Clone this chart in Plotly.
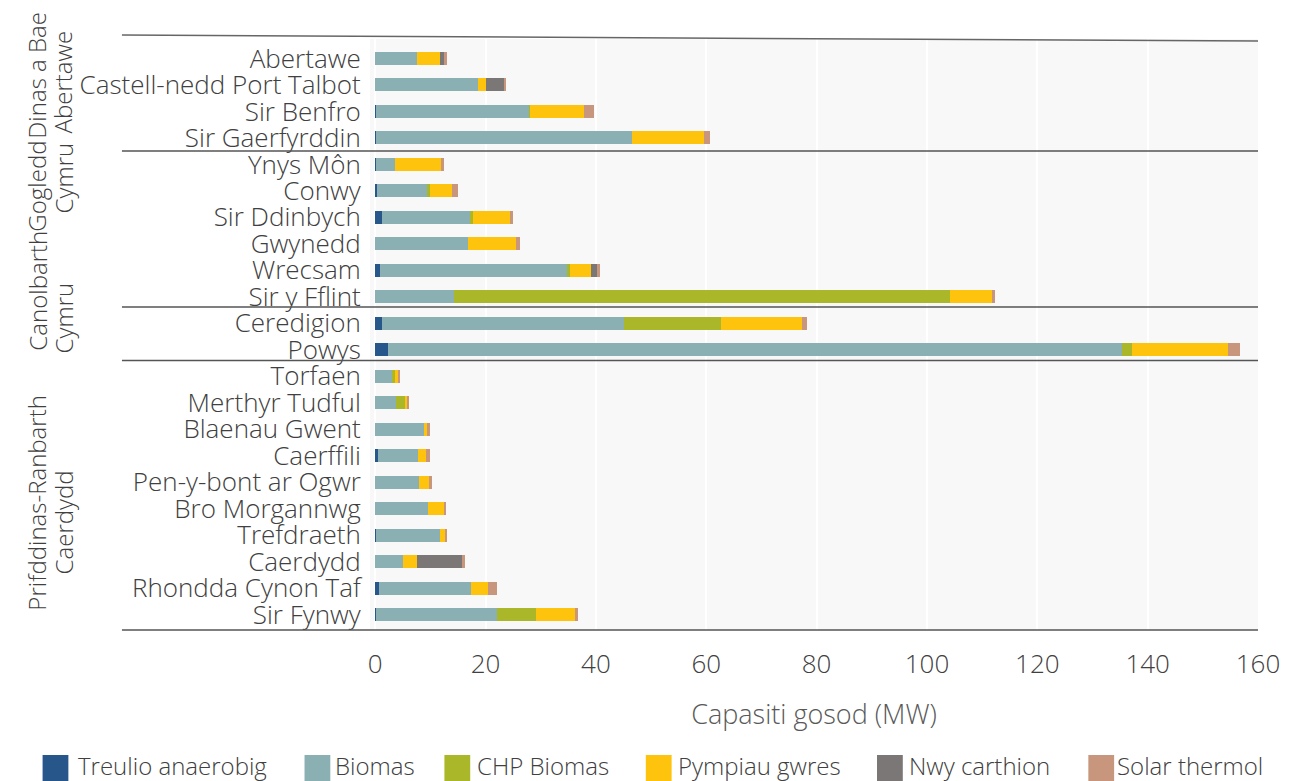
import plotly.graph_objects as go

# Local authorities, top to bottom
categories = ["Abertawe", "Castell-nedd Port Talbot", "Sir Benfro", "Sir Gaerfyrddin",
              "Ynys Môn", "Conwy", "Sir Ddinbych", "Gwynedd", "Wrecsam", "Sir y Fflint",
              "Ceredigion", "Powys",
              "Torfaen", "Merthyr Tudful", "Blaenau Gwent", "Caerffili", "Pen-y-bont ar Ogwr",
              "Bro Morgannwg", "Trefdraeth", "Caerdydd", "Rhondda Cynon Taf", "Sir Fynwy"]

# Installed capacity (MW) by technology
treulio = [0, 0, 0.2, 0.2, 0.2, 0.36, 1.3, 0, 0.9, 0, 1.3, 2.3,
           0, 0, 0, 0.5, 0, 0, 0.2, 0, 0.6, 0.2]
biomas = [7.5, 18.7, 27.7, 46.3, 3.4, 9.2, 15.8, 16.9, 34.0, 14.2, 43.7, 133.1,
          3.2, 3.8, 8.8, 7.2, 7.9, 9.5, 11.5, 5.0, 16.7, 21.9]
chp_biomas = [0, 0, 0.2, 0, 0, 0.36, 0.54, 0, 0.36, 90.0, 17.6, 1.8,
              0.36, 1.6, 0, 0, 0, 0, 0, 0, 0, 7.0]
pympiau = [4.3, 1.45, 9.7, 13.1, 8.3, 3.95, 6.8, 8.6, 3.77, 7.7, 14.7, 17.4,
           0.7, 0.36, 0.54, 1.44, 1.8, 3.05, 1.08, 2.5, 3.2, 7.2]
nwy = [0.7, 3.35, 0, 0, 0, 0, 0, 0, 1.26, 0, 0, 0,
       0, 0, 0, 0, 0, 0, 0, 8.3, 0, 0]
solar = [0.5, 0.25, 1.8, 1.1, 0.55, 1.1, 0.54, 0.72, 0.36, 0.36, 1.0, 2.2,
         0.2, 0.2, 0.54, 0.72, 0.54, 0.2, 0.2, 0.54, 1.6, 0.36]

series_names = ["Treulio anaerobig", "Biomas", "CHP Biomas", "Pympiau gwres",
                "Nwy carthion", "Solar thermol"]
series_values = [treulio, biomas, chp_biomas, pympiau, nwy, solar]
series_colors = ["#27568b", "#8bb0b3", "#a9b728", "#fec40d", "#7b7776", "#c8967c"]

# Regions: (line 1, line 2)
regions = [("Dinas a Bae", "Abertawe"), ("Gogledd", "Cymru"),
           ("Canolbarth", "Cymru"), ("Prifddinas-Ranbarth", "Caerdydd")]

x_ticks = [0, 20, 40, 60, 80, 100, 120, 140, 160]

W, H = 1292, 781
L, R, T, B = 370, 27, 39, 151
PW, PH = W - L - R, H - T - B


def px(x):
    return (x - L) / PW


def py(y):
    return 1 - (y - T) / PH


FONT = "Open Sans, Liberation Sans, sans-serif"
TXT = "#404040"

fig = go.Figure()
for name, vals, col in zip(series_names, series_values, series_colors):
    fig.add_trace(go.Bar(y=categories, x=vals, name=name, orientation="h",
                         marker=dict(color=col, line=dict(width=0)),
                         showlegend=False))

shapes = []
# Region separator lines
for y0, y1, c in [(35, 41, "#666666"), (151, 151, "#555555"), (307, 307, "#555555"),
                  (360.5, 360.5, "#555555"), (630, 630, "#555555")]:
    shapes.append(dict(type="line", xref="paper", yref="paper",
                       x0=px(120), x1=px(1265), y0=py(y0), y1=py(y1),
                       line=dict(color=c, width=1.5)))

annotations = []
# Region labels, rotated
region_pos = [(75, 82), (186, 178), (291, 318), (503, 522)]
for (l1, l2), (c1, c2) in zip(regions, region_pos):
    for txt, xc, yc in [(l1, 34, c1), (l2, 61, c2)]:
        annotations.append(dict(text=txt, xref="paper", yref="paper", x=px(xc), y=py(yc),
                                textangle=-90, showarrow=False, xanchor="center",
                                yanchor="middle",
                                font=dict(size=24, color=TXT, family=FONT, weight=300)))

# Legend drawn as swatches and labels along the bottom
legend_sq = [40, 304, 445, 648, 881, 1094]
legend_tx = [74, 333, 476, 678, 911, 1121]
for name, col, sx, tx in zip(series_names, series_colors, legend_sq, legend_tx):
    shapes.append(dict(type="rect", xref="paper", yref="paper",
                       x0=px(sx), x1=px(sx + 26), y0=py(755), y1=py(781),
                       fillcolor=col, line=dict(width=0)))
    annotations.append(dict(text=name, xref="paper", yref="paper", x=px(tx), y=py(765),
                            showarrow=False, xanchor="left", yanchor="middle",
                            font=dict(size=24, color=TXT, family=FONT, weight=300)))

fig.update_layout(
    width=W, height=H, barmode="stack", bargap=0.51,
    margin=dict(l=L, r=R, t=T, b=B, pad=0),
    paper_bgcolor="white", plot_bgcolor="#f8f8f8",
    font=dict(family=FONT, color=TXT, size=26, weight=300),
    shapes=shapes, annotations=annotations,
    xaxis=dict(range=[-0.95, 160], tickvals=x_ticks, ticktext=[str(v) for v in x_ticks],
               showgrid=True, gridcolor="white", gridwidth=2, zeroline=False,
               ticks="outside", ticklen=11, tickcolor="rgba(0,0,0,0)",
               tickfont=dict(size=26, color=TXT),
               title=dict(text="Capasiti gosod (MW)", standoff=24,
                          font=dict(size=27, color="#595959"))),
    yaxis=dict(type="category", range=[21.585, -0.736], showgrid=False,
               tickmode="array", tickvals=categories, ticktext=categories,
               ticks="outside", ticklen=3, tickcolor="rgba(0,0,0,0)",
               tickfont=dict(size=26, color=TXT)),
)

fig.write_html("out.html")
